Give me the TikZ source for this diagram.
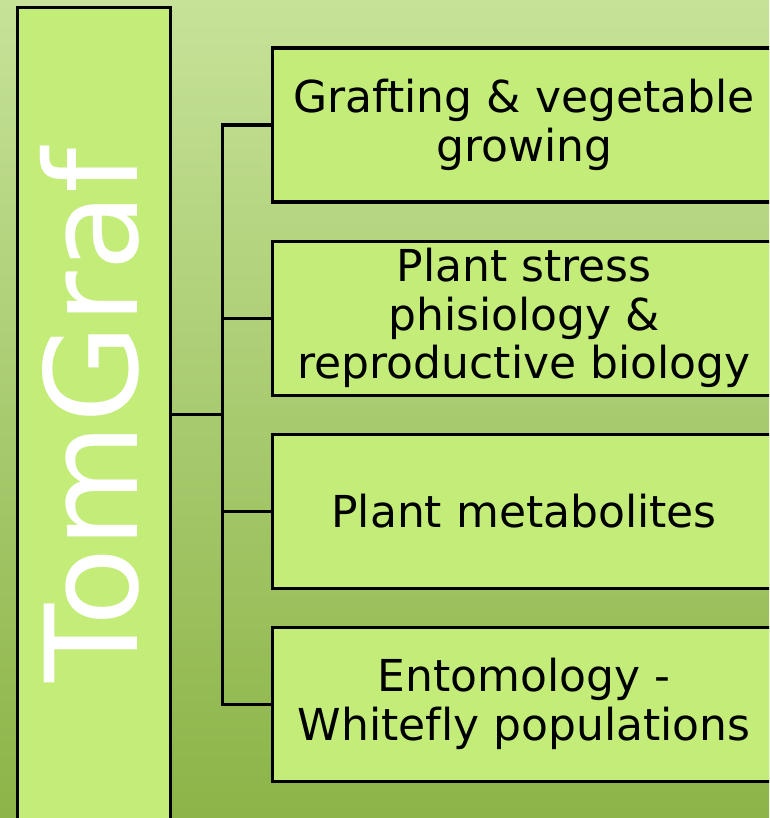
\documentclass[tikz,border=0pt]{standalone}
\usepackage{fontspec}
\setmainfont{DejaVu Sans}[Ligatures=NoCommon]
\usepackage{xcolor}
\usepackage{tikz}
\usetikzlibrary{positioning,
calc}

\definecolor{bgtop}{RGB}{198,226,152}
\definecolor{bgbottom}{RGB}{140,180,72}
\definecolor{boxgreen}{RGB}{195,236,121}

\begin{document}
\begin{tikzpicture}[
		x=1pt, y=-1pt,
		node distance=35.8pt,
		panel/.style={
			draw,
			line width=3.2pt,
			fill=boxgreen,
			minimum width=153pt,
			minimum height=813pt
		},
		topic/.style={
			draw,
			line width=3.2pt,
			fill=boxgreen,
			align=center,
			minimum width=503pt,
			minimum height=154pt,
			inner sep=0pt,
			font=\fontsize{44}{48.6}\selectfont
		},
		wire/.style={
			line width=3.2pt
		}
		]
		
		% Frame
		\useasboundingbox (0,0) rectangle (769,818);
		\clip (0,0) rectangle (769,818);
		\fill[top color=bgtop, bottom color=bgbottom] (0,0) rectangle (769,818);
		
		% Left panel
		\node[panel, anchor=north west] (tom) at (16,6) {};
		\node[rotate=90, anchor=base, text=white, font=\fontsize{128}{140}\selectfont]
		(tomlabel) at ([xshift=43pt,yshift=-1.5pt]tom.center) {TomGraf};
		
		% Topics
		\node[topic, anchor=north west] (grafting) at (271,46.5)
		{Grafting \& vegetable\\growing};
		
		\node[topic, below=of grafting] (stress)
		{Plant stress\\phisiology \&\\reproductive biology};
		
		\node[topic, below=of stress] (metab)
		{Plant metabolites};
		
		\node[topic, below=of metab] (whitefly)
		{Entomology -\\Whitefly populations};
		
		% Connections
		\coordinate[right=50pt of tom] (trunk);
		\draw[wire] (tom.east) -- (trunk);
		\draw[wire] (grafting.west) -| (trunk |- whitefly.west) -- (whitefly.west);
		\draw[wire] (trunk |- stress.west) -- (stress.west);
		\draw[wire] (trunk |- metab.west) -- (metab.west);
		
	\end{tikzpicture}
\end{document}
